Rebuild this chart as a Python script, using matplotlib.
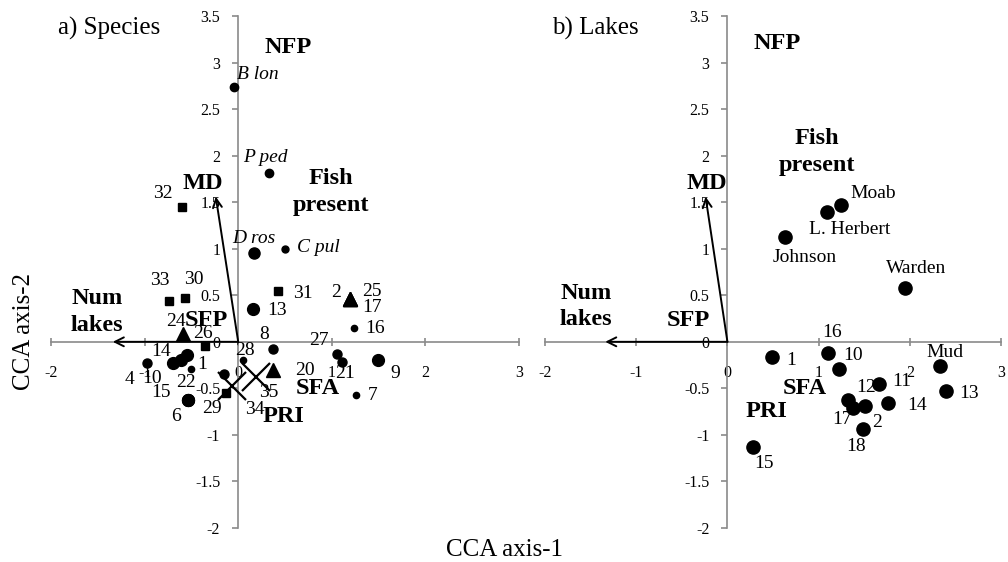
import numpy as np
import matplotlib.pyplot as plt
from matplotlib.ticker import FuncFormatter

plt.rcParams['font.family'] = ['Liberation Serif', 'DejaVu Serif']
plt.rcParams['axes.unicode_minus'] = False

# ---- a) Species: CCA scores ----
spp_names = ['B lon', 'P ped', 'D ros', 'C pul']
spp_x = [-0.04, 0.33, 0.17, 0.50]
spp_y = [2.74, 1.81, 0.95, 1.00]

# sites, grouped the way they are drawn (big / medium / small circles, triangles, squares, crosses)
big_lab = ['13', '9', '6', '22', '15', '10', '', '14']
big_x = [0.155, 1.49, -0.54, -0.54, -0.54, -0.70, -0.61, -0.55]
big_y = [0.355, -0.20, -0.62, -0.62, -0.62, -0.23, -0.20, -0.14]

mid_lab = ['4', '21', '27', '8', '']
mid_x = [-0.97, 1.11, 1.06, 0.37, -0.155]
mid_y = [-0.23, -0.22, -0.13, -0.08, -0.35]

small_lab = ['16', '7', '1', '28']
small_x = [1.24, 1.26, -0.50, 0.05]
small_y = [0.15, -0.57, -0.29, -0.20]

tri_lab = ['2', '25', '17', '20', '24']
tri_x = [1.19, 1.19, 1.19, 0.37, -0.59]
tri_y = [0.46, 0.46, 0.46, -0.30, 0.08]

sq_lab = ['32', '31', '33', '30', '26', '29']
sq_x = [-0.60, 0.42, -0.74, -0.57, -0.36, -0.13]
sq_y = [1.45, 0.55, 0.44, 0.47, -0.04, -0.55]

cross_lab = ['35', '34']
cross_x = [0.19, -0.07]
cross_y = [-0.38, -0.47]

# ---- b) Lakes ----
lake_names = ['Moab', 'L. Herbert', 'Johnson', 'Warden', '1', '16', '10', 'Mud',
              '13', '11', '12', '17', '2', '14', '18', '15']
lake_x = [1.24, 1.09, 0.63, 1.95, 0.49, 1.10, 1.22, 2.33,
          2.40, 1.66, 1.32, 1.38, 1.51, 1.76, 1.49, 0.28]
lake_y = [1.47, 1.40, 1.13, 0.58, -0.16, -0.12, -0.29, -0.26,
          -0.53, -0.45, -0.63, -0.71, -0.69, -0.66, -0.94, -1.13]

# environmental variables
env_names = ['NFP', 'Fish\npresent', 'MD', 'Num\nlakes', 'SFP', 'SFA', 'PRI']
env_a_x = [0.53, 0.99, -0.38, -1.51, -0.34, 0.85, 0.48]
env_a_y = [3.16, 1.61, 1.70, 0.32, 0.23, -0.50, -0.80]
env_b_x = [0.54, 0.98, -0.23, -1.55, -0.43, 0.85, 0.43]
env_b_y = [3.20, 2.04, 1.70, 0.38, 0.23, -0.50, -0.75]

arrow_names = ['MD', 'Num lakes']
arrow_x = [-0.24, -1.34]
arrow_y = [1.56, 0.0]

# label offsets in pixels (right, down) from each point
off_a = {'B lon': (23, -12), 'P ped': (-4, -16), 'D ros': (0, -15), 'C pul': (33, -1),
         '13': (24, 2), '9': (18, 13), '6': (-12, 17), '22': (-2, -17), '15': (-27, -7),
         '10': (-21, 15), '14': (-26, -3),
         '4': (-18, 16), '21': (3, 11), '27': (-18, -13), '8': (-9, -15),
         '16': (21, 1), '7': (16, 1), '1': (11, -4), '28': (2, -10),
         '2': (-14, -7), '25': (22, -8), '17': (22, 8), '20': (32, 1), '24': (-7, -13),
         '32': (-19, -13), '31': (25, 3), '33': (-9, -20), '30': (9, -19), '26': (-2, -12),
         '29': (-14, 15), '35': (13, 15), '34': (23, 24)}
off_b = {'Moab': (33, -11), 'L. Herbert': (23, 18), 'Johnson': (20, 21), 'Warden': (11, -19),
         '1': (19, 4), '16': (4, -20), '10': (14, -13), 'Mud': (5, -14), '13': (23, 2),
         '11': (23, -2), '12': (18, -13), '17': (-11, 12), '2': (12, 16), '14': (29, 2),
         '18': (-7, 17), '15': (11, 16)}

GRAY = '#8a8a8a'
LAB_FS = 14


def setup(ax):
    ax.set_xlim(-2, 3)
    ax.set_ylim(-2, 3.5)
    ax.set_xticks(np.arange(-2, 3.1, 1))
    ax.set_yticks(np.arange(-2, 3.6, 0.5))
    fmt = FuncFormatter(lambda v, p: '%g' % v)
    ax.xaxis.set_major_formatter(fmt)
    ax.yaxis.set_major_formatter(fmt)
    for s in ['top', 'right']:
        ax.spines[s].set_visible(False)
    ax.spines['left'].set_position(('data', 0))
    ax.spines['bottom'].set_position(('data', 0))
    for s in ['left', 'bottom']:
        ax.spines[s].set_color(GRAY)
        ax.spines[s].set_linewidth(1.2)
    ax.tick_params(axis='y', direction='out', length=4, width=1.2, color=GRAY,
                   labelsize=11.5, pad=9)
    ax.tick_params(axis='x', direction='inout', length=6, width=1.2, color=GRAY,
                   labelsize=11.5, pad=13.5)
    ax.patch.set_visible(False)


def labels(ax, xs, ys, labs, offs, **kw):
    for x, y, t in zip(xs, ys, labs):
        if not t:
            continue
        dx, dy = offs[t]
        ax.annotate(t, (x, y), xytext=(dx, -dy), textcoords='offset pixels',
                    ha='center', va='center', fontsize=LAB_FS, zorder=5, **kw)


def env(ax, ex, ey):
    for i, name in enumerate(arrow_names):
        ax.annotate('', xy=(arrow_x[i], arrow_y[i]), xytext=(0, 0),
                    arrowprops=dict(arrowstyle='->', lw=1.4, color='black',
                                    mutation_scale=16, shrinkA=0, shrinkB=0))
    for t, x, y in zip(env_names, ex, ey):
        ax.text(x, y, t, ha='center', va='center', fontsize=17.5, fontweight='bold',
                linespacing=1.35, zorder=6)


fig = plt.figure(figsize=(10.08, 5.62), dpi=100)
ax1 = fig.add_axes([0.0506, 0.0605, 0.4643, 0.911])
ax2 = fig.add_axes([0.5407, 0.0605, 0.4524, 0.911])

# panel a
setup(ax1)
env(ax1, env_a_x, env_a_y)
spp_ms = [6, 6, 8, 5]
for x, y, m in zip(spp_x, spp_y, spp_ms):
    ax1.plot(x, y, 'o', color='black', ms=m, zorder=4)
labels(ax1, spp_x, spp_y, spp_names, off_a, style='italic')
ax1.plot(big_x, big_y, 'o', color='black', ms=8.5, ls='none', zorder=4)
ax1.plot(mid_x, mid_y, 'o', color='black', ms=6.5, ls='none', zorder=4)
ax1.plot(small_x, small_y, 'o', color='black', ms=4.5, ls='none', zorder=4)
ax1.plot(tri_x, tri_y, '^', color='black', ms=10, ls='none', zorder=4)
ax1.plot(sq_x, sq_y, 's', color='black', ms=6, ls='none', zorder=4)
ax1.plot(cross_x, cross_y, 'x', color='black', ms=20, mew=1.6, ls='none', zorder=4)
for xs, ys, ls_ in [(big_x, big_y, big_lab), (mid_x, mid_y, mid_lab),
                    (small_x, small_y, small_lab), (tri_x, tri_y, tri_lab),
                    (sq_x, sq_y, sq_lab), (cross_x, cross_y, cross_lab)]:
    labels(ax1, xs, ys, ls_, off_a)
fig.text(58 / 1008, 1 - 28 / 562, 'a) Species', fontsize=18, ha='left', va='center')

# panel b
setup(ax2)
env(ax2, env_b_x, env_b_y)
ax2.plot(lake_x, lake_y, 'o', color='black', ms=9.5, ls='none', zorder=4)
labels(ax2, lake_x, lake_y, lake_names, off_b)
fig.text(552 / 1008, 1 - 28 / 562, 'b) Lakes', fontsize=18, ha='left', va='center')

fig.text(0.5, 1 - 550 / 562, 'CCA axis-1', fontsize=18, ha='center', va='center')
fig.text(24 / 1008, 1 - 332 / 562, 'CCA axis-2', fontsize=18, ha='center', va='center',
         rotation=90)

fig.savefig('out.png', dpi=100)
